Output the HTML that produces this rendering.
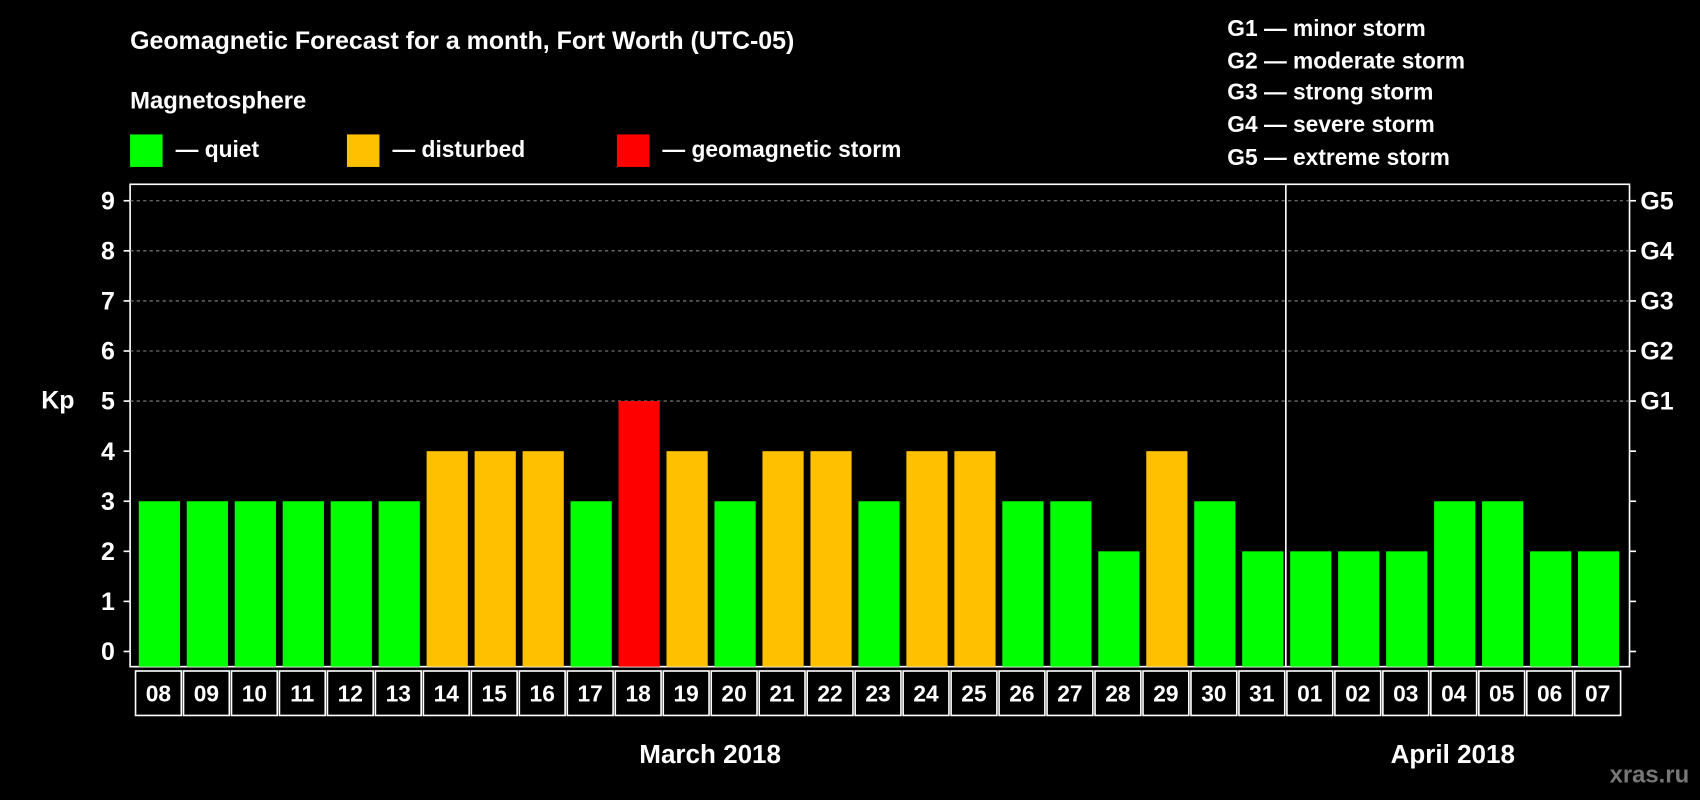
<!DOCTYPE html>
<html><head><meta charset="utf-8"><style>
html,body{margin:0;padding:0;background:#000;}
svg{display:block;font-family:"Liberation Sans",Arial,sans-serif;font-weight:bold;}
</style></head><body>
<svg id="chart" width="1700" height="800" viewBox="0 0 1568 738" preserveAspectRatio="none" xmlns="http://www.w3.org/2000/svg">
<rect width="1568" height="738" fill="#000"/>
<text x="120" y="45" fill="#fff" font-size="23">Geomagnetic Forecast for a month, Fort Worth (UTC-05)</text>
<text x="120" y="100" fill="#fff" font-size="22">Magnetosphere</text>
<g><rect x="120" y="124" width="30" height="30" fill="#00ff00"/><text x="162" y="145" fill="#fff" font-size="21">— quiet</text></g>
<g><rect x="320" y="124" width="30" height="30" fill="#ffc000"/><text x="362" y="145" fill="#fff" font-size="21">— disturbed</text></g>
<g><rect x="569" y="124" width="30" height="30" fill="#ff0000"/><text x="611" y="145" fill="#fff" font-size="21">— geomagnetic storm</text></g>
<g fill="#fff" font-size="21">
<text x="1132" y="33">G1 — minor storm</text>
<text x="1132" y="63">G2 — moderate storm</text>
<text x="1132" y="92">G3 — strong storm</text>
<text x="1132" y="122">G4 — severe storm</text>
<text x="1132" y="152">G5 — extreme storm</text>
</g>
<text x="38" y="377" fill="#fff" font-size="23">Kp</text>
<rect x="120" y="170" width="1383" height="445" fill="none" stroke="#fff" stroke-width="1.5"/>
<g id="grid"></g><g id="bars"></g><g id="xlabels"></g><g id="yticks"></g>
<line x1="1186" y1="170" x2="1186" y2="615" stroke="#fff" stroke-width="1.5"/>
<text x="655" y="704" fill="#fff" font-size="24" text-anchor="middle">March 2018</text>
<text x="1340" y="704" fill="#fff" font-size="24" text-anchor="middle">April 2018</text>
<text x="1558" y="722" fill="#777" font-size="22" text-anchor="end">xras.ru</text>
</svg>
<script>
const days = ["08","09","10","11","12","13","14","15","16","17","18","19","20","21","22","23","24","25","26","27","28","29","30","31","01","02","03","04","05","06","07"];
const kpValues = [3,3,3,3,3,3,4,4,4,3,5,4,3,4,4,3,4,4,3,3,2,4,3,2,2,2,2,3,3,2,2];
const yTicks = [0,1,2,3,4,5,6,7,8,9];
const gLabels = ["","","","","","G1","G2","G3","G4","G5"];
const NS="http://www.w3.org/2000/svg";
const y = v => 601 - v*46.2;
const xCell = i => 124 + i*44.25;
function mk(tag, attrs, parent){const e=document.createElementNS(NS,tag);for(const k in attrs)e.setAttribute(k,attrs[k]);parent.appendChild(e);return e;}
const grid=document.getElementById('grid'), bars=document.getElementById('bars'), xl=document.getElementById('xlabels'), yt=document.getElementById('yticks');
yTicks.forEach((t,i)=>{
  if(t>=5){const l=mk('line',{x1:120,x2:1503,y1:y(t),y2:y(t),stroke:'#888','stroke-dasharray':'3,3','stroke-width':1},grid);
  
  }
  mk('line',{x1:114,x2:120,y1:y(t),y2:y(t),stroke:'#fff','stroke-width':1.5},yt);
  mk('line',{x1:1503,x2:1509,y1:y(t),y2:y(t),stroke:'#fff','stroke-width':1.5},yt);
  const tx=mk('text',{x:106,y:y(t)+8,fill:'#fff','font-size':23,'text-anchor':'end'},yt);
  tx.textContent=t;
  
  
  if(gLabels[i]){const g=mk('text',{x:1513,y:y(t)+8,fill:'#fff','font-size':23},yt);
  g.textContent=gLabels[i];
  
  }
});
kpValues.forEach((v,i)=>{
  const col = v>=5?'#ff0000':(v>=4?'#ffc000':'#00ff00');
  const r=mk('rect',{x:xCell(i)+4,y:y(v),width:38,height:y(0)+14-y(v),fill:col},bars);
  
  
  const c=mk('rect',{x:xCell(i)+1,y:619,width:42.25,height:41,fill:'none',stroke:'#fff','stroke-width':1.5},xl);
  
  
  const t=mk('text',{x:xCell(i)+22.1,y:647,fill:'#fff','font-size':21,'text-anchor':'middle'},xl);
  t.textContent=days[i];
  
  
});
</script>
</body></html>
